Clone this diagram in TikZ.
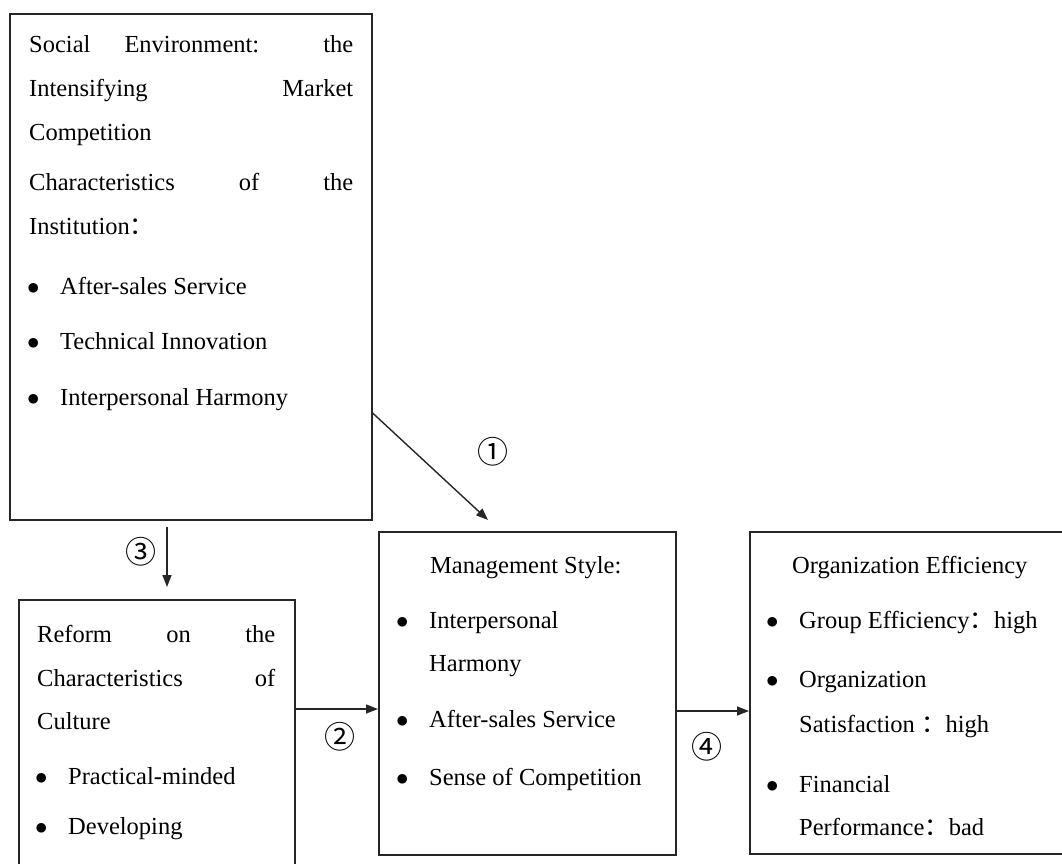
\documentclass[tikz,border=0pt]{standalone}
\usepackage{fontspec}
\setmainfont{Liberation Serif}
\newfontfamily\cjk{Noto Sans CJK SC}
\usetikzlibrary{arrows.meta,calc}

% full-width colon, bullet item and fully justified line
\newcommand\fcolon{{\cjk ：}}
\newcommand\bitem[1]{\makebox[31pt][l]{\hspace*{-2pt}$\bullet$}#1}
\newcommand\jline[1]{\makebox[\linewidth][s]{#1}}

\begin{document}
\begin{tikzpicture}[x=1pt,y=-1pt,
  box/.style={draw=black!85, line width=1.6pt, anchor=north west, inner sep=0pt},
  txt/.style={anchor=base west, inner sep=0pt, font=\fontsize{24.5}{44}\selectfont, text=black},
  arr/.style={draw=black!85, line width=1.4pt, -{Triangle[length=12pt,width=9pt]}},
  num/.style={font=\cjk\fontsize{31}{31}\selectfont, inner sep=0pt}]

\useasboundingbox (0,0) rectangle (1062,864);
\clip (0,0) rectangle (1062,864);

% boxes
\node[box, minimum width=362pt, minimum height=506pt] (env) at (9,13) {};
\node[box, minimum width=276pt, minimum height=280pt] (reform) at (18,599) {};
\node[box, minimum width=297pt, minimum height=323pt] (mgmt) at (378,531) {};
\node[box, minimum width=330pt, minimum height=322pt] (orgeff) at (749,531) {};

% box texts
\node[txt] (envtext) at (29,53) {\parbox[t]{324pt}{%
\jline{Social Environment: the}\\
\jline{Intensifying Market}\\
Competition\\[6pt]
\jline{Characteristics of the}\\
Institution\fcolon\\[15pt]
\bitem{After-sales Service}\\[12pt]
\bitem{Technical Innovation}\\[12pt]
\bitem{Interpersonal Harmony}}};

\node[txt] (reformtext) at (37,642) {\parbox[t]{238pt}{%
\jline{Reform on the}\\
\jline{Characteristics of}\\[-1pt]
Culture\\[11pt]
\bitem{Practical-minded}\\[6pt]
\bitem{Developing}}};

\node[txt] (mgmttext) at (398,573) {\parbox[t]{270pt}{%
\hspace*{32pt}Management Style:\\[11pt]
\bitem{Interpersonal}\\[-1pt]
\hspace*{31pt}Harmony\\[12pt]
\bitem{After-sales Service}\\[14pt]
\bitem{Sense of Competition}}};

\node[txt] (orgefftext) at (768,573) {\parbox[t]{300pt}{%
\hspace*{24pt}Organization Efficiency\\[11pt]
\bitem{Group Efficiency\fcolon high}\\[15pt]
\bitem{Organization}\\[1pt]
\hspace*{31pt}Satisfaction \fcolon high\\[16pt]
\bitem{Financial}\\[-1pt]
\hspace*{31pt}Performance\fcolon bad}};

% connectors
\draw[arr] ($(env.north east)+(0,400)$) -- ($(mgmt.north west)+(110,-11)$);
\draw[arr] ($(env.south west)+(158,6)$) -- ($(reform.north west)+(149,-12)$);
\draw[arr] ($(reform.north east)+(0,110)$) -- ($(mgmt.north west)+(0,178)$);
\draw[arr] ($(mgmt.north east)+(0,180)$) -- ($(orgeff.north west)+(0,180)$);

% step numbers
\node[num] (n1) at (493,452) {①};
\node[num] (n2) at (340,737) {②};
\node[num] (n3) at (141,552) {③};
\node[num] (n4) at (707,747) {④};
\end{tikzpicture}
\end{document}
